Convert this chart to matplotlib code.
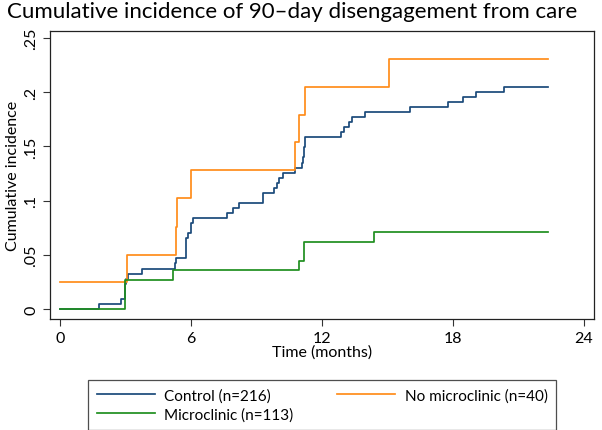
import matplotlib.pyplot as plt

# Control (n=216)
control_t = [0, 1.79, 2.78, 2.98, 3.02, 3.10, 3.74, 5.28, 5.33, 5.75, 5.78, 5.85,
             6.02, 6.07, 7.64, 7.94, 8.20, 9.31, 9.82, 9.93, 10.05, 10.23, 10.77,
             11.10, 11.13, 11.16, 11.20, 11.22, 12.86, 13.00, 13.25, 13.36, 13.97,
             16.03, 17.79, 18.47, 19.06, 20.34, 22.37]
control_y = [0, 0.0047, 0.0093, 0.0233, 0.028, 0.0325, 0.0373, 0.042, 0.0466, 0.060,
             0.065, 0.070, 0.079, 0.0836, 0.0886, 0.0933, 0.0973, 0.1066, 0.112,
             0.1166, 0.121, 0.125, 0.130, 0.135, 0.140, 0.149, 0.154, 0.1586, 0.163,
             0.168, 0.1726, 0.177, 0.182, 0.1866, 0.191, 0.196, 0.2006, 0.205, 0.205]

# No microclinic (n=40)
nomc_t = [0, 3.05, 5.30, 5.35, 6.00, 10.77, 10.96, 11.22, 15.09, 22.37]
nomc_y = [0.025, 0.050, 0.076, 0.102, 0.128, 0.1536, 0.179, 0.205, 0.2307, 0.2307]

# Microclinic (n=113)
mc_t = [0, 2.98, 5.19, 10.95, 11.19, 14.40, 22.37]
mc_y = [0, 0.0264, 0.0355, 0.0445, 0.0622, 0.0712, 0.0712]

x_ticks = [0, 6, 12, 18, 24]
y_ticks = [0, 0.05, 0.10, 0.15, 0.20, 0.25]
y_labels = ['0', '.05', '.1', '.15', '.2', '.25']

plt.rcParams['font.family'] = ['Lato', 'DejaVu Sans']

fig = plt.figure(figsize=(6.02, 4.31), dpi=100)
ax = fig.add_axes([50 / 602, 1 - 320 / 431, 544 / 602, 288 / 431])

ax.step(control_t, control_y, where='post', color='#1a4a7a', lw=1.25,
        label='Control (n=216)')
ax.step(nomc_t, nomc_y, where='post', color='#ff8c1a', lw=1.25,
        label='No microclinic (n=40)')
ax.step(mc_t, mc_y, where='post', color='#1f8f1f', lw=1.25,
        label='Microclinic (n=113)')

ax.set_xlim(-0.46, 24.46)
ax.set_ylim(-0.0093, 0.2565)
ax.set_xticks(x_ticks)
ax.set_yticks(y_ticks)
ax.set_yticklabels(y_labels, rotation=90, va='center')
ax.tick_params(labelsize=11.5, length=5, width=0.8, color='#333333')
for s in ax.spines.values():
    s.set_linewidth(0.9)
    s.set_color('#222222')

ax.set_xlabel('Time (months)', fontsize=11.5, labelpad=0)
ax.set_ylabel('Cumulative incidence', fontsize=11.5, labelpad=3)
fig.suptitle('Cumulative incidence of 90\u2013day disengagement from care',
             fontsize=16, x=0.485, y=0.995)

handles, labels = ax.get_legend_handles_labels()
order = [0, 2, 1]
leg = fig.legend([handles[i] for i in order], [labels[i] for i in order],
                 ncol=2, loc='upper center', bbox_to_anchor=(0.535, 1 - 381 / 431),
                 fontsize=11, frameon=True, fancybox=False, edgecolor='#222222',
                 handlelength=3.8, handletextpad=0.6, columnspacing=2.9,
                 labelspacing=0.3, borderpad=0.55, borderaxespad=0)
leg.get_frame().set_linewidth(0.9)

fig.savefig('out.png', dpi=100, facecolor='white')
